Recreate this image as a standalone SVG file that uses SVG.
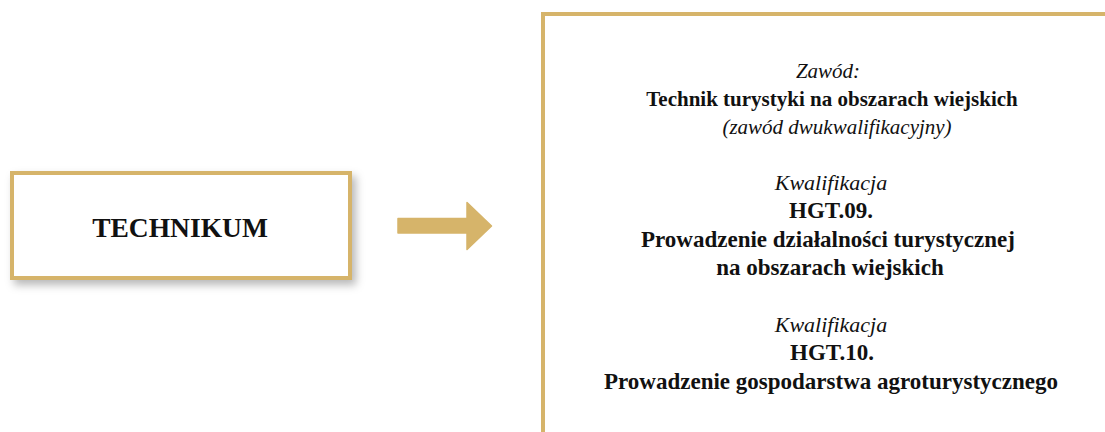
<svg xmlns="http://www.w3.org/2000/svg" width="1105" height="432" viewBox="0 0 1105 432">
  <defs>
    <filter id="shadow" x="-10%" y="-20%" width="130%" height="150%">
      <feDropShadow dx="4" dy="5" stdDeviation="4" flood-color="#000" flood-opacity="0.28"/>
    </filter>
  </defs>
  <style>
    .frame { fill: #ffffff; stroke: #D6B46A; stroke-width: 4; }
    .t { font-family: "Liberation Serif", "Times New Roman", serif; fill: #111; text-anchor: middle; }
    .b1 { font-weight: bold; font-size: 21px; }
    .i1 { font-style: italic; font-size: 21px; }
    .b2 { font-weight: bold; font-size: 23px; }
    .i2 { font-style: italic; font-size: 22px; }
    .arrow { fill: #D6B46A; stroke: #D6B46A; stroke-width: 1.5; stroke-linejoin: round; }
  </style>
  <rect width="1105" height="432" fill="#ffffff"/>
  <g id="technikum">
    <rect class="frame" x="12" y="173" width="338" height="105" filter="url(#shadow)"/>
    <text class="t" x="180" y="237" font-weight="bold" font-size="27.5">TECHNIKUM</text>
  </g>
  <g id="connectors">
    <polygon class="arrow" points="398,218.5 467,218.5 467,202.5 491.5,226 467,249.5 467,233 398,233"/>
  </g>
  <g id="zawod">
    <rect class="frame" x="543" y="14" width="600" height="460"/>
    <text class="t i1" x="828" y="78" font-size="20">Zawód:</text>
    <text class="t b1" x="832" y="106">Technik turystyki na obszarach wiejskich</text>
    <text class="t i1" x="837" y="134">(zawód dwukwalifikacyjny)</text>
    <text class="t i2" x="831" y="190">Kwalifikacja</text>
    <text class="t b2" x="831" y="218">HGT.09.</text>
    <text class="t b2" x="828" y="247">Prowadzenie działalności turystycznej</text>
    <text class="t b2" x="830" y="275">na obszarach wiejskich</text>
    <text class="t i2" x="831" y="332">Kwalifikacja</text>
    <text class="t b2" x="832" y="360">HGT.10.</text>
    <text class="t b2" x="831" y="389">Prowadzenie gospodarstwa agroturystycznego</text>
  </g>
</svg>
